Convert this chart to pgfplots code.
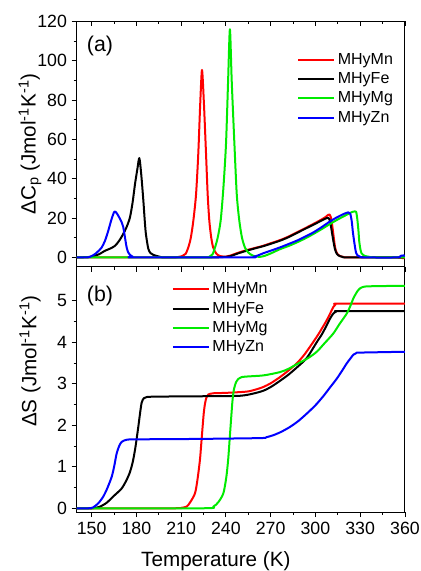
\documentclass[border=0pt]{standalone}
\usepackage{fontspec}
\setmainfont{Liberation Sans}
\usepackage{pgfplots}
\pgfplotsset{compat=1.18}

\definecolor{cMn}{RGB}{255,0,0}
\definecolor{cFe}{RGB}{0,0,0}
\definecolor{cMg}{RGB}{0,235,0}
\definecolor{cZn}{RGB}{0,0,255}

\pgfplotsset{
  panel/.style={
    width=246.2pt, height=184pt, scale only axis,
    xmin=140, xmax=360,
    xtick={150,180,...,360}, minor x tick num=1,
    minor y tick num=1,
    tick align=outside,
    major tick length=3.8pt, minor tick length=2.2pt,
    tick style={black, line width=0.6pt},
    axis line style={line width=0.7pt},
    ytick pos=left, xtick pos=bottom,
    /pgf/number format/assume math mode=true,
    ticklabel style={font=\fontsize{13.3}{15}\selectfont},
    label style={font=\fontsize{15.5}{18}\selectfont},
    legend cell align=left,
    legend image code/.code={\draw[#1, line width=1.5pt] (0pt,0pt) -- (27pt,0pt);},
    legend style={draw=none, fill=none, inner sep=0pt, row sep=2.6pt,
      font=\fontsize{12}{14}\selectfont,
      nodes={inner xsep=2pt, inner ysep=1pt}},
    every axis plot/.append style={line width=1.5pt, smooth, tension=0.45, line join=round},
  },
  topticks/.style={
    width=246.2pt, height=184pt, scale only axis,
    xmin=140, xmax=360,
    xtick={150,180,...,360}, minor x tick num=1,
    axis x line*=top, axis y line=none,
    tick align=inside, xticklabels={},
    major tick length=3.8pt, minor tick length=2.2pt,
    tick style={black, line width=0.6pt},
    axis line style={line width=0.7pt},
  },
}

\begin{document}
\begin{tikzpicture}
\path[use as bounding box] (-57.5pt,-44.25pt) rectangle (258.25pt,384pt);

% ---- (a) heat capacity ----
\begin{axis}[panel, at={(0,184pt)}, anchor=south west,
  ymin=-4.7, ymax=120, ytick={0,20,...,120},
  xticklabels={},
  ylabel={ΔC\textsubscript{p} (Jmol\textsuperscript{-1}K\textsuperscript{-1})},
  ylabel style={at={(axis description cs:-0.142,0.5)}, anchor=center},
  legend style={at={(0.671,0.875)}, anchor=north west},
]
\addplot[cMn] coordinates {
(140,0) (200,0) (208,0.2) (211,0.8) (213,1.8) (214.8,5) (216.5,10) (218.2,18.7)
(220,32) (221.5,52.6) (222.8,78) (224,95.3) (225.3,78) (226.7,52.6) (227.8,32)
(228.9,18.7) (230.2,10) (231.5,5) (233.5,2) (236,0.7) (240,0.4) (242.8,0.9)
(248,2.3) (253.9,3.7) (260,4.9) (265,5.9) (270,7.2) (276.3,8.8) (282,10.6)
(287.5,12.7) (293,14.8) (298.6,17) (303,18.8) (306.4,20.3) (308.5,21.6) (309.5,21.8)
(310.5,20) (311.3,16) (312,12) (313,6) (313.8,3.3) (315,1.5) (316.5,0.7) (319,0.2)
(322,0) (350,0) (360,-0.4)
};
\addlegendentry{MHyMn}
\addplot[cFe] coordinates {
(140,0) (148,0.2) (152.3,0.9) (155,1.6) (159,3.4) (162.5,4.5) (165.7,5.9) (168.5,8.5)
(171.2,11.9) (173.5,15.5) (175.7,20.3) (177.5,28) (179.1,37.3) (180.7,45) (182,50.5)
(183.3,42) (184.7,28.8) (185.6,19) (186.4,11.9) (188,4.4) (189.5,2.2) (191.4,1.3)
(195.9,0.3) (200,0) (230,0) (238,0.2) (242.8,0.6) (248,2.0) (253.9,3.4) (260,4.7)
(265,5.7) (270,6.9) (276.3,8.5) (282,10.3) (287.5,12.4) (293,14.5) (298.6,16.6)
(303,18.3) (306.4,19.6) (308.6,20.1) (309.8,18.5) (310.9,13.6) (312,8.5) (313.1,4.2)
(314.2,2) (315.4,1) (318,0.3) (322,0) (360,0)
};
\addlegendentry{MHyFe}
\addplot[cMg] coordinates {
(140,0) (225,0) (228.8,0.3) (231,1.5) (232.7,5) (234.5,10) (236.5,18.7) (238.3,35)
(240.1,58) (241.5,90) (242.7,116) (243.9,90) (245.7,58) (247.3,32) (249,18.7)
(250.8,10) (252.8,5) (255,2.5) (257.3,1.2) (260,0.5) (263,0.3) (266,0.8) (270,2.0)
(276.3,4.2) (282,5.8) (287.5,7.6) (293,9.6) (298.6,11.9) (304,14.3) (309.8,17)
(315,19.3) (321,21.7) (324.3,23) (326.5,23.4) (327.3,23.2) (328,20) (328.8,14)
(329.4,8) (330.2,4) (331,2) (333,0.8) (336,0.3) (340,0) (360,0)
};
\addlegendentry{MHyMg}
\addplot[cZn] coordinates {
(140,0) (146,0) (149,0.3) (152.3,1.7) (154.5,3.2) (156.8,5.1) (159,8.5) (161.2,13.6)
(163.2,19) (165.2,23.2) (166.5,22.8) (167.9,21.2) (170.2,17.8) (171.2,15.5) (172,11.9)
(173.5,5.1) (174.6,2.5) (175.7,1.3) (177.5,0.4) (179,0) (255,0) (258.4,0.3)
(261.5,1.0) (265,2.1) (270,3.4) (276.3,5.1) (282,6.8) (287.5,8.5) (293,10.5)
(298.6,12.7) (304,15.3) (309.8,18.3) (314,20.2) (318.7,22) (322,22.9) (323.3,22.3)
(324.3,18.7) (325.1,13) (325.9,8.5) (327.2,2.5) (328.5,0.9) (330,0.3) (333,0)
(355,0) (357,0.8) (359,1.0) (360,0.8)
};
\addlegendentry{MHyZn}
\node[font=\fontsize{16}{19}\selectfont] at (axis description cs:0.071,0.901) {(a)};
\end{axis}
\begin{axis}[topticks, at={(0,184pt)}, anchor=south west, ymin=-4.7, ymax=120]
\end{axis}

% ---- (b) entropy ----
\begin{axis}[panel, at={(0,0)}, anchor=south west,
  ymin=-0.09, ymax=5.82, ytick={0,1,...,5},
  xlabel={Temperature (K)},
  xlabel style={at={(axis description cs:0.424,-0.2)}, anchor=center},
  ylabel={ΔS (Jmol\textsuperscript{-1}K\textsuperscript{-1})},
  ylabel style={at={(axis description cs:-0.142,0.615)}, anchor=center},
  legend style={at={(0.289,0.94)}, anchor=north west},
]
\addplot[cMn] coordinates {
(140,0) (205,0) (210,0.01) (213.7,0.04) (216,0.14) (219.3,0.36) (221,0.7) (222.6,1.16)
(223.5,1.55) (224.4,1.96) (225.2,2.3) (226,2.52) (227,2.67) (228.2,2.74) (231.5,2.77)
(240,2.78) (253.9,2.81) (260,2.86) (265,2.92) (270,3.01) (276.3,3.16) (282,3.32)
(287.5,3.49) (293,3.72) (300.9,4.13) (304.5,4.34) (307.6,4.53) (310,4.7) (312,4.85)
(313.5,4.91) (315.5,4.93) (360,4.93)
};
\addlegendentry{MHyMn}
\addplot[cFe] coordinates {
(140,0) (150,0) (155,0.03) (160,0.13) (165,0.3) (170,0.47) (173,0.65) (175.5,0.85)
(177.5,1.1) (179.3,1.45) (181.3,1.96) (182.6,2.32) (183.6,2.55) (185,2.65) (187,2.68)
(195,2.69) (230,2.7) (249.5,2.71) (258,2.76) (265,2.83) (270.5,2.93) (276.3,3.07)
(282,3.22) (287.5,3.39) (294.2,3.62) (300.9,4.0) (304.5,4.2) (307.6,4.41) (310,4.58)
(312,4.69) (314,4.74) (316,4.75) (360,4.75)
};
\addlegendentry{MHyFe}
\addplot[cMg] coordinates {
(140,0) (225,0) (231.6,0.04) (235,0.15) (238.3,0.36) (240.3,0.75) (241.6,1.2)
(242.7,1.75) (243.7,2.25) (244.5,2.62) (245.5,2.88) (247.2,3.06) (250.6,3.16)
(265,3.2) (276.3,3.28) (282,3.36) (287.5,3.47) (295.2,3.62) (300.9,3.77) (306,3.97)
(312,4.21) (316,4.43) (321,4.69) (323.5,4.88) (325.5,5.06) (328,5.22) (330,5.3)
(333,5.34) (340,5.35) (360,5.36)
};
\addlegendentry{MHyMg}
\addplot[cZn] coordinates {
(140,0) (148,0) (151,0.02) (154.5,0.12) (157.8,0.28) (160.5,0.48) (163.5,0.76)
(165.2,1.02) (166.8,1.32) (168.5,1.5) (170.2,1.6) (173.5,1.65) (180,1.66) (220,1.67)
(262.8,1.69) (267,1.71) (271.8,1.76) (277,1.84) (283,1.96) (288.5,2.1) (294.2,2.28)
(300,2.48) (305.3,2.7) (310,2.92) (314.3,3.12) (318,3.32) (321,3.49) (323.5,3.61)
(325.5,3.7) (327.5,3.74) (330,3.75) (360,3.77)
};
\addlegendentry{MHyZn}
\node[font=\fontsize{16}{19}\selectfont] at (axis description cs:0.071,0.882) {(b)};
\end{axis}
\begin{axis}[topticks, at={(0,0)}, anchor=south west, ymin=-0.09, ymax=5.82]
\end{axis}
\end{tikzpicture}
\end{document}
